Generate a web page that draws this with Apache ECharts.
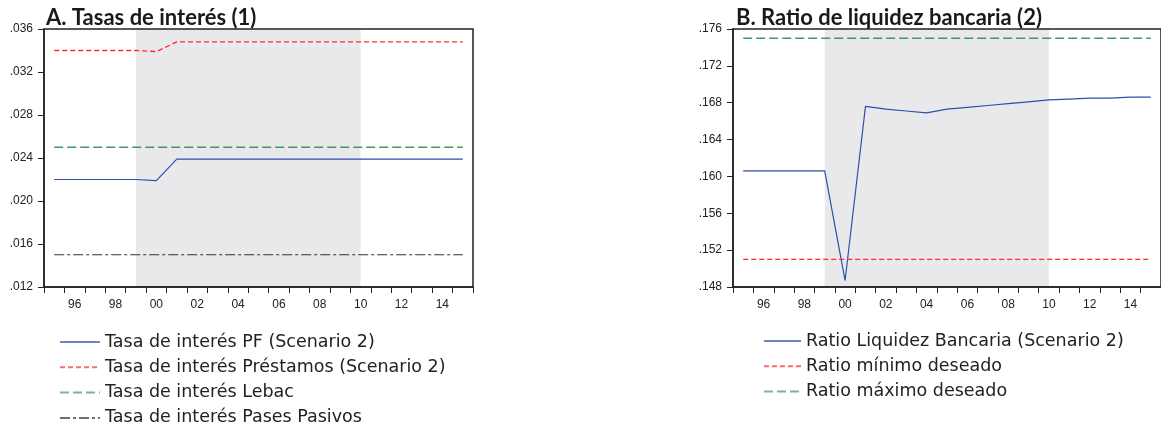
<!DOCTYPE html>
<html>
<head>
<meta charset="utf-8">
<style>
  html, body { margin: 0; padding: 0; background: #fff; }
  #chart { width: 1161px; height: 429px; }
</style>
<script src="https://cdn.jsdelivr.net/npm/echarts@6/dist/echarts.min.js"></script>
</head>
<body>
<div id="chart"></div>
<script>
// Annual observations, 1995-2015
const years = ['1995','1996','1997','1998','1999','2000','2001','2002','2003','2004','2005',
               '2006','2007','2008','2009','2010','2011','2012','2013','2014','2015'];

// Panel A: interest rates
const pfRate    = [0.0220,0.0220,0.0220,0.0220,0.0220,0.0219,0.0239,0.0239,0.0239,0.0239,0.0239,
                   0.0239,0.0239,0.0239,0.0239,0.0239,0.0239,0.0239,0.0239,0.0239,0.0239];
const loanRate  = [0.0340,0.0340,0.0340,0.0340,0.0340,0.0339,0.0348,0.0348,0.0348,0.0348,0.0348,
                   0.0348,0.0348,0.0348,0.0348,0.0348,0.0348,0.0348,0.0348,0.0348,0.0348];
const lebacRate = [0.025,0.025,0.025,0.025,0.025,0.025,0.025,0.025,0.025,0.025,0.025,
                   0.025,0.025,0.025,0.025,0.025,0.025,0.025,0.025,0.025,0.025];
const pasesRate = [0.015,0.015,0.015,0.015,0.015,0.015,0.015,0.015,0.015,0.015,0.015,
                   0.015,0.015,0.015,0.015,0.015,0.015,0.015,0.015,0.015,0.015];

// Panel B: bank liquidity ratio
const liqRatio  = [0.1606,0.1606,0.1606,0.1606,0.1606,0.1487,0.1676,0.1673,0.1671,0.1669,0.1673,
                   0.1675,0.1677,0.1679,0.1681,0.1683,0.1684,0.1685,0.1685,0.1686,0.1686];
const liqMin    = [0.151,0.151,0.151,0.151,0.151,0.151,0.151,0.151,0.151,0.151,0.151,
                   0.151,0.151,0.151,0.151,0.151,0.151,0.151,0.151,0.151,0.151];
const liqMax    = [0.175,0.175,0.175,0.175,0.175,0.175,0.175,0.175,0.175,0.175,0.175,
                   0.175,0.175,0.175,0.175,0.175,0.175,0.175,0.175,0.175,0.175];

// Shaded period
const shadeFrom = '1999';
const shadeTo   = '2010';

const titles = ['A. Tasas de interés (1)', 'B. Ratio de liquidez bancaria (2)'];
const namesA = ['Tasa de interés PF (Scenario 2)', 'Tasa de interés Préstamos (Scenario 2)',
                'Tasa de interés Lebac', 'Tasa de interés Pases Pasivos'];
const namesB = ['Ratio Liquidez Bancaria (Scenario 2)', 'Ratio mínimo deseado', 'Ratio máximo deseado'];

const BLUE = '#2f4fa8', RED = '#ff2b2b', GREEN = '#3d9a63', DARK = '#333333';
const tickFont = 'Liberation Sans, Arial, sans-serif';
const titleFont = 'Lato, sans-serif';
const legendFont = 'DejaVu Sans, sans-serif';

function fmt(v) { return v.toFixed(3).replace(/^0/, ''); }

function xAxis(gridIndex) {
  return {
    type: 'category', gridIndex, data: years, boundaryGap: true, z: 10,
    axisLine: { lineStyle: { color: '#222', width: 1.5 } },
    axisTick: { show: true, interval: 0, length: 6, lineStyle: { color: '#222' } },
    axisLabel: {
      interval: (i) => i % 2 === 1,
      formatter: (v) => v.slice(2),
      color: '#222', fontFamily: tickFont, fontSize: 12, margin: 12
    },
    splitLine: { show: false }
  };
}
function yAxis(gridIndex, min, max) {
  return {
    type: 'value', gridIndex, min, max, interval: 0.004, z: 10,
    axisLine: { show: true, lineStyle: { color: '#222', width: 1.5 } },
    axisTick: { show: true, length: 6, lineStyle: { color: '#222' } },
    axisLabel: { formatter: fmt, color: '#222', fontFamily: tickFont, fontSize: 12, margin: 11 },
    splitLine: { show: false }
  };
}
function line(name, data, idx, color, type, width, shade) {
  const s = {
    name, type: 'line', data, xAxisIndex: idx, yAxisIndex: idx,
    symbol: 'none', animation: false, z: 3,
    lineStyle: { color, type, width },
    itemStyle: { color }
  };
  if (shade) {
    s.markArea = {
      silent: true,
      itemStyle: { color: '#e9e9ec' },
      data: [[{ xAxis: shadeFrom }, { xAxis: shadeTo }]]
    };
  }
  return s;
}
function legend(data, left, top, iconWidth) {
  return {
    data, left, top, orient: 'vertical', padding: 0,
    itemWidth: iconWidth, itemHeight: 20, itemGap: 5.3,
    textStyle: { fontFamily: legendFont, fontSize: 17.5, color: '#222', lineHeight: 20 },
    lineStyle: { opacity: 0.7 },
    itemStyle: { opacity: 0 },
    selectedMode: false
  };
}

const chart = echarts.init(document.getElementById('chart'), null, { renderer: 'canvas' });
chart.setOption({
  animation: false,
  title: [
    { text: titles[0], left: 46, top: 7, padding: [0, 0, 0, 0],
      textStyle: { fontFamily: titleFont, fontWeight: 'bold', fontSize: 22, color: '#1a1a1a' } },
    { text: titles[1], left: 736, top: 7, padding: [0, 0, 0, 0],
      textStyle: { fontFamily: titleFont, fontWeight: 'bold', fontSize: 22, color: '#1a1a1a' } }
  ],
  grid: [
    { left: 44, top: 29, width: 429, height: 258, show: true, z: 10, borderColor: '#222', borderWidth: 1.5, backgroundColor: 'transparent' },
    { left: 733, top: 29, width: 430, height: 258, show: true, z: 10, borderColor: '#222', borderWidth: 1.5, backgroundColor: 'transparent' }
  ],
  xAxis: [xAxis(0), xAxis(1)],
  yAxis: [yAxis(0, 0.012, 0.036), yAxis(1, 0.148, 0.176)],
  legend: [legend(namesA, 59, 332, 40), legend(namesB, 763, 331, 37)],
  series: [
    line(namesA[0], pfRate, 0, BLUE, 'solid', 1.2, true),
    line(namesA[1], loanRate, 0, RED, [5, 3], 1.3),
    line(namesA[2], lebacRate, 0, GREEN, [9, 4], 1.6),
    line(namesA[3], pasesRate, 0, DARK, [10, 3, 3, 3], 1.2),
    line(namesB[0], liqRatio, 1, BLUE, 'solid', 1.2, true),
    line(namesB[1], liqMin, 1, RED, [5, 3], 1.3),
    line(namesB[2], liqMax, 1, GREEN, [9, 4], 1.6)
  ]
});
</script>
</body>
</html>
